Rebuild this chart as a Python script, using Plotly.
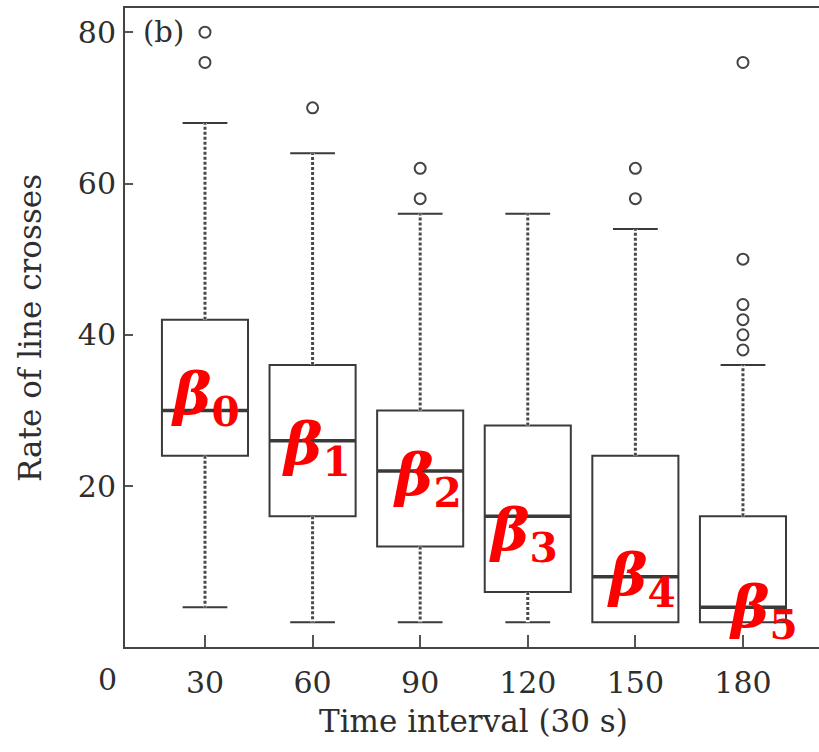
import plotly.graph_objects as go

# ---- data ----
intervals = [30, 60, 90, 120, 150, 180]
tick_labels = ["30", "60", "90", "120", "150", "180"]
lower_whisker = [4, 2, 2, 2, 2, 2]
q1 = [24, 16, 12, 6, 2, 2]
median = [30, 26, 22, 16, 8, 4]
q3 = [42, 36, 30, 28, 24, 16]
upper_whisker = [68, 64, 56, 56, 54, 36]
outlier_x = [30, 30, 60, 90, 90, 150, 150, 180, 180, 180, 180, 180, 180]
outlier_y = [80, 76, 70, 62, 58, 62, 58, 76, 50, 44, 42, 40, 38]
beta_subscripts = ["0", "1", "2", "3", "4", "5"]

# ---- style ----
SERIF = "DejaVu Serif"
TEXT = "#2e2e2e"
BOX_COLOR = "#3a3a3a"
label_dx = [1, 4, 7, -4, 6, 21]      # pixel offsets of the beta labels
label_dy = [12, -7, -8, -18, -2, -4]

fig = go.Figure()

fig.add_trace(go.Box(
    x=intervals, q1=q1, median=median, q3=q3,
    lowerfence=lower_whisker, upperfence=upper_whisker,
    width=24, whiskerwidth=0.52,
    fillcolor="white", line=dict(color=BOX_COLOR, width=2),
    boxpoints=False, hoverinfo="skip", showlegend=False,
))

# dashed whiskers drawn over the solid ones
wx, wy = [], []
for x, a, b in list(zip(intervals, q3, upper_whisker)) + list(zip(intervals, q1, lower_whisker)):
    if a != b:
        wx += [x, x, None]
        wy += [a, b, None]
fig.add_trace(go.Scatter(x=wx, y=wy, mode="lines",
                         line=dict(color="white", width=4),
                         hoverinfo="skip", showlegend=False))
fig.add_trace(go.Scatter(x=wx, y=wy, mode="lines",
                         line=dict(color="#4a4a4a", width=3, dash="3px,2px"),
                         hoverinfo="skip", showlegend=False))

# thicker medians
mx, my = [], []
for x, m in zip(intervals, median):
    mx += [x - 12, x + 12, None]
    my += [m, m, None]
fig.add_trace(go.Scatter(x=mx, y=my, mode="lines",
                         line=dict(color=BOX_COLOR, width=3.5),
                         hoverinfo="skip", showlegend=False))

# outliers
fig.add_trace(go.Scatter(x=outlier_x, y=outlier_y, mode="markers",
                         marker=dict(symbol="circle-open", size=11,
                                     line=dict(color="#444444", width=2),
                                     color="#444444"),
                         hoverinfo="skip", showlegend=False))

# beta labels
for x, m, s, dx, dy in zip(intervals, median, beta_subscripts, label_dx, label_dy):
    fig.add_annotation(x=x, y=m, xref="x", yref="y",
                       text="<b><i>β</i><sub>" + s + "</sub></b>",
                       showarrow=False, xanchor="center", yanchor="middle",
                       xshift=dx, yshift=dy,
                       font=dict(family=SERIF, size=58, color="#ff0000"))

# panel letter, stray zero, axis titles
fig.add_annotation(x=(141 - 125) / 694, y=80, xref="paper", yref="y", text="(b)",
                   showarrow=False, xanchor="left", yanchor="middle",
                   font=dict(family=SERIF, size=29, color=TEXT))
fig.add_annotation(x=(107 - 125) / 694, y=-1.27, xref="paper", yref="y", text="0",
                   showarrow=False, xanchor="center", yanchor="top", yshift=-13,
                   font=dict(family=SERIF, size=30, color=TEXT))
fig.add_annotation(x=(473 - 125) / 694, y=-1.27, xref="paper", yref="y",
                   text="Time interval (30 s)", showarrow=False,
                   xanchor="center", yanchor="top", yshift=-54,
                   font=dict(family=SERIF, size=31, color=TEXT))
fig.add_annotation(x=(30 - 125) / 694, y=(647 - 328) / 639, xref="paper", yref="paper",
                   text="Rate of line crosses", showarrow=False, textangle=-90,
                   xanchor="center", yanchor="middle",
                   font=dict(family=SERIF, size=31, color=TEXT))

fig.update_layout(
    width=819, height=752,
    margin=dict(l=125, r=0, t=8, b=105),
    paper_bgcolor="white", plot_bgcolor="white",
    font=dict(family=SERIF, size=30, color=TEXT),
    showlegend=False,
)
fig.update_xaxes(range=[7.7, 201.2], tickmode="array", tickvals=intervals,
                 ticktext=tick_labels, ticks="inside", ticklen=12, tickwidth=2,
                 tickcolor="#555555", showline=True, linecolor="#444444",
                 linewidth=2, mirror=True, showgrid=False, zeroline=False,
                 ticklabelstandoff=8)
fig.update_yaxes(range=[-1.27, 83.2], tickmode="array", tickvals=[20, 40, 60, 80],
                 ticks="inside", ticklen=8, tickwidth=2, tickcolor="#555555",
                 showline=True, linecolor="#444444", linewidth=2,
                 showgrid=False, zeroline=False, ticklabelstandoff=1)

fig.write_html("out.html")
